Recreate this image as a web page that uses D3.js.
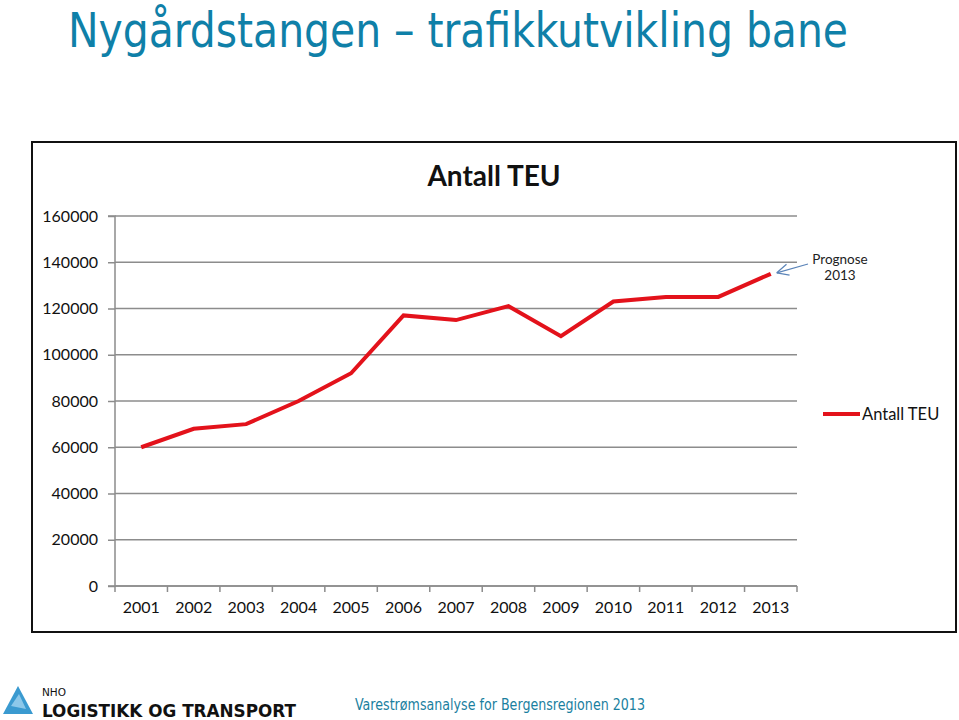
<!DOCTYPE html>
<html><head><meta charset="utf-8">
<script src="https://cdn.jsdelivr.net/npm/d3@7"></script>
<style>body{margin:0;background:#fff}svg{display:block}</style>
</head><body>
<script>
const years = ["2001","2002","2003","2004","2005","2006","2007","2008","2009","2010","2011","2012","2013"];
const teu = [60000,68000,70000,80000,92000,117000,115000,121000,108000,123000,125000,125000,135000];
const yTicks = [0,20000,40000,60000,80000,100000,120000,140000,160000];
const seriesName = "Antall TEU";
const chartTitle = "Antall TEU";
const pageTitle = "Nygårdstangen – trafikkutvikling bane";
const footerText = "Varestrømsanalyse for Bergensregionen 2013";
const noteLines = ["Prognose","2013"];

const W=959,H=720;
const svg=d3.select("body").append("svg").attr("width",W).attr("height",H);

// page title
svg.append("text").attr("x",68).attr("y",47).attr("font-family","'DejaVu Sans Condensed', 'DejaVu Sans'").attr("font-size",48)
  .attr("fill","#0f80a8").attr("textLength",780).attr("lengthAdjust","spacingAndGlyphs").text(pageTitle);

// chart frame
svg.append("rect").attr("x",32).attr("y",142).attr("width",924).attr("height",490)
  .attr("fill","#fff").attr("stroke","#111").attr("stroke-width",2);

svg.append("text").attr("x",494).attr("y",186).attr("text-anchor","middle").attr("font-family","Lato")
  .attr("font-weight","bold").attr("font-size",28).attr("fill","#111").text(chartTitle);

const L=115,R=797,T=216,B=586;
const x=d3.scaleBand().domain(years).range([L,R]);
const y=d3.scaleLinear().domain([0,160000]).range([B,T]);

// gridlines
const g=svg.append("g");
g.selectAll("line.grid").data(yTicks).join("line").attr("class","grid")
  .attr("x1",L).attr("x2",R).attr("y1",d=>y(d)).attr("y2",d=>y(d))
  .attr("stroke","#8c8c8c").attr("stroke-width",1.5);

// y axis
const yAxis=svg.append("g").attr("transform",`translate(${L},0)`)
  .call(d3.axisLeft(y).tickValues(yTicks).tickSize(7).tickPadding(10).tickFormat(d3.format("d")));
yAxis.select(".domain").attr("stroke","#8c8c8c").attr("stroke-width",1.5).attr("d",`M-7,${T}H0V${B}H-7`);
yAxis.selectAll(".tick line").attr("stroke","#8c8c8c").attr("stroke-width",1.5);
yAxis.selectAll("text").attr("font-family","Lato").attr("font-size",16).attr("fill","#111");

// x axis
const xAxis=svg.append("g").attr("transform",`translate(0,${B})`)
  .call(d3.axisBottom(x).tickSize(0).tickPadding(16));
xAxis.select(".domain").remove();
xAxis.selectAll("text").attr("font-family","Lato").attr("font-size",16).attr("fill","#111");
const bounds=years.map(d=>x(d)).concat([R]);
xAxis.selectAll("line.tk").data(bounds).join("line").attr("class","tk")
  .attr("x1",d=>d).attr("x2",d=>d).attr("y1",0).attr("y2",6).attr("stroke","#8c8c8c").attr("stroke-width",1.5);
xAxis.append("line").attr("x1",L).attr("x2",R).attr("y1",0).attr("y2",0).attr("stroke","#8c8c8c").attr("stroke-width",1.5);

// line
const line=d3.line().x((d,i)=>x(years[i])+x.bandwidth()/2).y(d=>y(d));
svg.append("path").datum(teu).attr("d",line).attr("fill","none").attr("stroke","#e3121b")
  .attr("stroke-width",4).attr("stroke-linejoin","miter");

// legend
svg.append("line").attr("x1",823).attr("x2",860).attr("y1",414).attr("y2",414).attr("stroke","#e3121b").attr("stroke-width",4);
svg.append("text").attr("x",862).attr("y",420).attr("font-family","Lato").attr("font-size",16.5).attr("fill","#111").text(seriesName);

// annotation
const lastX=x(years[years.length-1])+x.bandwidth()/2, lastY=y(teu[teu.length-1]);
const ax=lastX+6, ay=lastY-1;
svg.append("line").attr("x1",808).attr("y1",264).attr("x2",ax).attr("y2",ay).attr("stroke","#5b84b8").attr("stroke-width",1.2);
const ang=Math.atan2(264-ay,808-ax);
[0.45,-0.45].forEach(a=>{
  svg.append("line").attr("x1",ax).attr("y1",ay).attr("x2",ax+13*Math.cos(ang+a)).attr("y2",ay+13*Math.sin(ang+a))
    .attr("stroke","#5b84b8").attr("stroke-width",1.2);
});
noteLines.forEach((t,i)=>svg.append("text").attr("x",840).attr("y",264+i*16).attr("text-anchor","middle")
  .attr("font-family","Lato").attr("font-size",13.5).attr("fill","#222").text(t));

// footer logo
const logo=svg.append("g");
logo.append("path").attr("d","M3,714 L18,686 L33,714 Z").attr("fill","#3a9ad0");
logo.append("path").attr("d","M11,706 L19,694 L26,709 Z").attr("fill","#8cc8ea");
logo.append("text").attr("x",42).attr("y",696).attr("font-family","DejaVu Sans").attr("font-size",10.5).attr("fill","#111").text("NHO");
logo.append("text").attr("x",42).attr("y",717).attr("font-family","DejaVu Sans").attr("font-weight","bold").attr("font-size",18)
  .attr("fill","#111").attr("textLength",254).attr("lengthAdjust","spacingAndGlyphs").text("LOGISTIKK OG TRANSPORT");

svg.append("text").attr("x",355).attr("y",710).attr("font-family","'DejaVu Sans Condensed', 'DejaVu Sans'").attr("font-size",15.5).attr("fill","#1a7fa0")
  .attr("textLength",290).attr("lengthAdjust","spacingAndGlyphs").text(footerText);
</script>
</body></html>
